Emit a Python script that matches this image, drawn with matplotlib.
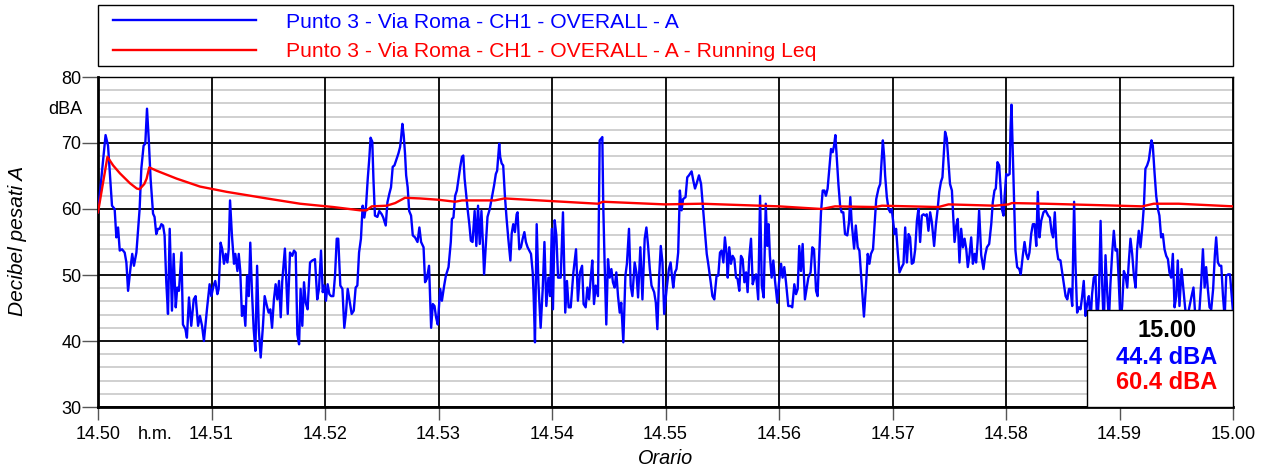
import matplotlib
matplotlib.use("Agg")
import matplotlib.pyplot as plt
from matplotlib.patches import Rectangle

plt.rcParams["font.family"] = ["Liberation Sans", "DejaVu Sans"]

# ── Dati (tempo in secondi da 14.50, livello in dBA) ─────────────────────────
blue_pts = [
    (0, 59.5), (4.0, 71.2), (5.3, 69.6), (6.2, 65.6), (7.4, 60.5), (8.8, 60.0),
    (9.7, 55.7), (10.6, 57.2), (11.5, 53.7), (12.7, 53.9), (14.1, 53.4), (15.0, 51.9),
    (15.9, 47.6), (17.3, 51.4), (18.1, 53.2), (19.0, 51.4), (20.3, 53.4), (22.0, 60.0),
    (22.9, 66.1), (24.1, 69.6), (25.0, 69.9), (25.9, 75.2), (26.8, 70.7), (27.8, 64.6),
    (29.1, 59.3), (29.9, 58.8), (30.8, 56.2), (31.7, 57.0), (32.6, 57.0), (33.5, 57.7),
    (34.4, 57.5), (35.2, 56.0), (36.1, 48.9), (37.0, 44.1), (37.9, 57.0), (39.1, 44.6),
    (40.0, 53.2), (41.1, 45.1), (41.9, 48.1), (42.8, 47.6), (44.1, 53.4), (44.9, 42.5),
    (46.2, 41.8), (47.0, 40.5), (48.1, 46.6), (49.3, 42.3), (50.6, 46.3), (51.6, 46.8),
    (52.9, 42.3), (53.9, 43.8), (55.0, 42.3), (56.0, 40.0), (57.6, 44.8), (59.0, 48.6),
    (59.9, 46.8), (61.1, 48.4), (62.0, 49.1), (63.1, 47.1), (63.8, 47.9), (64.8, 54.9),
    (65.7, 53.9), (66.6, 51.7), (67.5, 53.2), (68.4, 51.9), (69.1, 53.9), (69.8, 61.3),
    (70.8, 56.0), (71.9, 51.7), (72.6, 53.2), (73.7, 50.6), (74.4, 53.2), (75.2, 50.6),
    (76.1, 43.8), (77.0, 45.3), (77.9, 42.3), (78.8, 49.9), (79.7, 46.8), (80.5, 54.9),
    (81.4, 47.4), (82.3, 41.8), (83.2, 38.5), (84.1, 51.4), (85.0, 41.8), (86.0, 37.5),
    (87.2, 42.3), (88.1, 46.8), (89.3, 45.3), (90.2, 44.3), (91.1, 44.8), (92.0, 42.0),
    (93.0, 46.3), (93.9, 48.6), (94.8, 46.3), (95.7, 49.1), (96.6, 43.6), (97.4, 49.1),
    (98.8, 54.0), (100.3, 44.1), (101.5, 53.4), (102.7, 52.9), (103.6, 53.7), (104.5, 53.4),
    (105.4, 41.0), (106.3, 39.5), (107.1, 47.9), (108.0, 42.3), (108.9, 48.9), (109.8, 45.8),
    (110.8, 44.8), (112.1, 51.9), (113.3, 52.2), (114.7, 52.4), (115.9, 46.3), (116.8, 47.9),
    (117.9, 53.7), (118.8, 47.4), (119.6, 48.4), (120.5, 46.1), (121.4, 48.6), (122.3, 47.1),
    (123.2, 46.8), (124.4, 46.8), (125.3, 49.9), (126.2, 55.5), (127.0, 55.5), (128.1, 48.4),
    (129.2, 47.9), (130.2, 42.0), (131.1, 44.3), (132.0, 47.9), (132.9, 46.3), (134.1, 44.1),
    (135.2, 44.6), (136.2, 48.1), (137.1, 48.4), (138.0, 53.4), (139.0, 55.5), (139.9, 60.5),
    (140.8, 58.7), (141.7, 60.5), (142.6, 64.6), (143.4, 67.6), (144.1, 70.8), (145.0, 70.2),
    (145.6, 64.6), (146.4, 59.0), (147.7, 58.8), (148.7, 59.7), (150.0, 59.2), (150.8, 58.7),
    (152.1, 57.5), (153.0, 61.0), (154.0, 62.3), (154.9, 63.3), (155.8, 66.4), (156.7, 66.6),
    (157.9, 67.6), (158.8, 68.4), (159.7, 69.4), (160.2, 70.7), (160.9, 72.9), (161.6, 71.2),
    (162.3, 68.4), (162.9, 65.1), (163.7, 63.3), (164.5, 59.7), (165.5, 59.0), (166.4, 56.0),
    (167.6, 55.7), (168.9, 55.0), (169.9, 57.2), (170.8, 55.0), (172.1, 54.2), (172.9, 48.9),
    (173.8, 49.4), (175.0, 51.4), (176.1, 42.0), (177.0, 45.6), (177.9, 45.3), (178.7, 43.6),
    (179.6, 42.5), (180.9, 47.9), (181.8, 46.1), (183.0, 48.4), (183.9, 49.9), (185.3, 51.2),
    (186.5, 55.0), (187.1, 58.5), (187.9, 58.7), (188.8, 62.0), (189.7, 62.8), (190.6, 64.6),
    (191.5, 66.4), (192.4, 67.9), (193.1, 68.1), (193.8, 64.6), (194.7, 62.0), (195.5, 59.7),
    (196.3, 57.7), (197.1, 55.2), (198.0, 55.0), (199.1, 59.7), (200.0, 54.4), (200.9, 60.5),
    (201.8, 54.7), (202.7, 59.7), (203.6, 53.9), (204.1, 50.1), (205.1, 55.0), (205.9, 58.8),
    (207.1, 60.0), (208.4, 62.0), (209.4, 63.6), (210.3, 65.3), (211.0, 65.8), (211.6, 68.1),
    (212.1, 69.9), (212.6, 67.9), (213.4, 66.9), (214.2, 66.6), (215.1, 62.0), (216.0, 58.5),
    (216.9, 55.5), (218.0, 52.2), (218.7, 56.3), (219.5, 57.7), (220.4, 56.5), (221.3, 59.2),
    (221.8, 59.5), (222.7, 53.9), (223.6, 54.2), (224.5, 55.5), (225.4, 56.5), (226.2, 55.0),
    (227.1, 54.2), (228.0, 53.7), (228.9, 53.2), (229.8, 50.4), (230.3, 46.8), (231.0, 39.8),
    (231.9, 57.7), (232.8, 48.9), (234.0, 42.0), (235.1, 47.9), (236.0, 55.0), (237.0, 45.3),
    (238.1, 49.6), (239.0, 46.8), (239.9, 57.0), (240.5, 44.8), (241.4, 58.3), (242.3, 56.0),
    (243.2, 49.6), (244.6, 49.6), (245.8, 59.5), (247.0, 44.3), (247.9, 49.1), (248.8, 45.1),
    (249.9, 45.1), (251.3, 50.4), (252.7, 53.9), (253.7, 46.1), (254.8, 50.4), (255.9, 51.4),
    (256.7, 45.6), (257.8, 45.1), (258.7, 48.1), (259.6, 46.3), (260.5, 49.6), (261.3, 52.2),
    (262.2, 45.6), (263.1, 48.4), (264.3, 46.8), (265.2, 70.4), (266.1, 70.7), (266.6, 70.9),
    (267.1, 60.5), (267.8, 51.9), (268.7, 42.5), (269.6, 52.4), (270.5, 49.6), (271.4, 50.9),
    (272.2, 48.9), (273.1, 48.1), (274.0, 50.4), (274.9, 46.8), (275.8, 44.3), (276.6, 45.8),
    (277.7, 39.8), (278.8, 49.9), (279.6, 51.7), (280.7, 57.0), (281.6, 48.4), (282.5, 46.8),
    (283.7, 51.9), (284.6, 50.4), (285.5, 46.6), (286.7, 54.2), (287.8, 46.3), (289.0, 55.5),
    (289.9, 57.2), (290.8, 54.4), (291.7, 50.9), (292.6, 48.4), (294.0, 47.4), (294.9, 45.8),
    (295.7, 41.8), (296.6, 49.6), (297.5, 54.4), (298.4, 51.9), (299.3, 44.1), (300.6, 47.9),
    (301.8, 50.9), (302.7, 51.9), (303.5, 49.6), (304.1, 48.1), (305.0, 50.4), (305.8, 50.9),
    (306.7, 53.4), (307.6, 62.8), (308.5, 59.8), (309.3, 61.5), (310.6, 61.8), (311.5, 64.8),
    (312.4, 65.1), (313.8, 65.7), (314.7, 64.3), (315.6, 63.1), (316.4, 63.8), (317.7, 65.1),
    (318.8, 63.8), (319.6, 61.0), (320.5, 57.7), (321.8, 53.2), (322.6, 51.7), (323.9, 48.9),
    (324.8, 46.8), (325.8, 46.3), (327.0, 49.9), (327.9, 49.9), (328.8, 53.4), (329.7, 53.7),
    (330.6, 51.9), (331.4, 55.7), (332.3, 53.2), (332.9, 49.6), (333.7, 54.2), (334.6, 51.7),
    (335.5, 52.9), (336.4, 52.4), (337.3, 49.6), (338.1, 49.4), (339.0, 47.6), (339.9, 52.9),
    (340.8, 52.4), (341.7, 48.9), (342.6, 50.4), (343.4, 47.4), (344.3, 52.7), (345.2, 55.5),
    (346.1, 48.6), (347.0, 49.6), (347.9, 50.1), (349.0, 46.3), (350.0, 62.0), (350.9, 48.4),
    (351.9, 46.6), (353.0, 60.8), (353.8, 54.4), (354.5, 57.7), (355.2, 52.9), (356.1, 49.6),
    (357.0, 52.2), (357.9, 49.1), (359.1, 45.8), (360.0, 48.9), (361.1, 51.7), (361.9, 49.6),
    (362.8, 51.2), (363.7, 48.9), (364.9, 45.3), (366.2, 45.3), (367.0, 45.1), (368.1, 48.6),
    (369.0, 47.1), (369.9, 47.9), (370.7, 54.4), (371.6, 50.6), (372.5, 54.7), (373.7, 46.3),
    (374.6, 47.9), (375.5, 49.6), (376.7, 50.4), (377.6, 54.2), (378.5, 53.9), (379.6, 47.6),
    (380.4, 46.8), (381.3, 53.4), (382.2, 59.5), (383.1, 62.8), (384.0, 62.8), (384.8, 62.0),
    (385.7, 63.1), (386.6, 66.1), (387.5, 69.1), (388.4, 68.6), (389.1, 69.6), (389.8, 71.2),
    (390.5, 67.9), (391.4, 63.8), (392.3, 60.5), (393.1, 59.5), (394.0, 59.5), (394.9, 56.2),
    (396.1, 56.0), (397.0, 58.0), (397.7, 61.8), (398.4, 58.0), (399.7, 54.0), (400.6, 57.5),
    (401.6, 54.2), (402.5, 53.7), (403.4, 50.0), (404.9, 43.7), (406.0, 48.4), (406.9, 53.2),
    (407.8, 51.7), (408.6, 53.2), (409.7, 53.9), (410.5, 57.5), (411.4, 61.5), (412.6, 63.1),
    (413.5, 63.8), (414.4, 67.9), (414.9, 70.4), (415.6, 67.9), (416.1, 65.1), (417.0, 61.8),
    (417.9, 60.0), (418.8, 59.5), (419.6, 60.0), (420.2, 58.5), (421.1, 56.2), (421.9, 57.0),
    (422.8, 53.4), (423.7, 50.4), (424.9, 51.2), (425.8, 51.7), (426.7, 57.2), (427.6, 51.9),
    (428.5, 56.2), (429.3, 55.7), (430.2, 51.7), (431.1, 51.9), (432.0, 53.9), (432.9, 58.2),
    (433.7, 60.0), (434.6, 55.0), (435.5, 59.0), (436.4, 59.2), (437.3, 59.0), (438.1, 59.2),
    (439.0, 56.7), (439.9, 59.5), (440.8, 58.0), (442.0, 54.4), (442.9, 57.5), (443.8, 59.8),
    (444.7, 62.6), (445.6, 64.1), (446.4, 64.8), (447.1, 68.4), (447.8, 71.7), (448.7, 70.7),
    (449.6, 67.1), (450.4, 63.8), (451.4, 62.8), (451.9, 60.0), (452.8, 55.0), (453.7, 57.5),
    (454.5, 58.5), (455.4, 51.9), (456.3, 57.0), (457.2, 54.2), (458.1, 55.5), (459.0, 53.9),
    (459.8, 51.2), (460.7, 53.0), (461.6, 55.7), (462.5, 51.7), (463.4, 53.2), (464.2, 51.9),
    (465.0, 55.0), (465.8, 59.8), (466.9, 53.0), (468.1, 50.9), (469.0, 53.0), (469.9, 54.2),
    (471.1, 54.7), (472.2, 57.7), (473.0, 61.0), (473.9, 62.8), (474.6, 63.1), (475.5, 67.1),
    (476.4, 66.6), (477.3, 62.6), (477.8, 60.0), (478.7, 59.0), (479.3, 62.0), (480.1, 65.3),
    (481.0, 65.1), (481.9, 65.3), (482.4, 72.2), (482.9, 75.8), (483.7, 67.1), (484.3, 61.0),
    (485.0, 53.7), (485.9, 51.2), (487.0, 50.9), (487.8, 50.1), (488.9, 53.0), (489.8, 55.0),
    (490.7, 53.2), (491.6, 52.4), (492.4, 53.4), (493.3, 56.2), (494.2, 57.7), (495.1, 57.7),
    (496.0, 54.4), (496.8, 62.6), (497.7, 55.7), (498.6, 58.2), (499.8, 59.5), (500.9, 59.8),
    (502.3, 59.0), (503.2, 58.7), (504.1, 56.5), (504.9, 55.7), (505.8, 59.5), (506.7, 54.2),
    (507.6, 52.4), (508.8, 52.2), (509.7, 50.4), (510.6, 48.6), (511.5, 46.8), (512.4, 46.3),
    (513.3, 47.9), (514.1, 47.9), (515.0, 45.3), (516.0, 61.1), (516.7, 51.9), (517.6, 44.3),
    (518.5, 45.1), (519.4, 44.8), (520.2, 46.6), (521.1, 49.1), (522.0, 43.8), (522.9, 45.6),
    (523.8, 46.8), (524.7, 43.0), (525.5, 47.1), (526.4, 49.6), (527.3, 49.9), (528.2, 42.5),
    (529.1, 46.8), (530.0, 58.2), (530.8, 48.9), (531.7, 42.0), (532.6, 53.0), (533.5, 47.4),
    (534.4, 43.0), (535.2, 48.6), (536.1, 53.2), (537.0, 56.7), (537.9, 53.7), (538.8, 53.9),
    (539.6, 49.1), (540.5, 42.8), (541.4, 45.3), (542.3, 50.6), (543.2, 49.9), (544.1, 48.1),
    (544.9, 51.9), (545.8, 55.5), (546.7, 53.2), (547.6, 49.9), (548.5, 48.1), (549.3, 53.9),
    (550.2, 56.7), (551.1, 54.2), (552.0, 57.0), (552.9, 60.5), (553.7, 66.1), (554.6, 66.6),
    (555.5, 67.4), (556.4, 69.4), (556.9, 70.4), (557.6, 69.6), (558.5, 65.6), (559.4, 62.0),
    (560.3, 60.0), (561.1, 59.0), (562.0, 55.7), (562.9, 56.2), (563.8, 53.9), (564.7, 52.9),
    (565.6, 52.4), (566.4, 50.4), (567.3, 49.6), (568.2, 53.2), (569.1, 45.1), (570.0, 46.8),
    (570.8, 52.2), (571.7, 45.3), (572.8, 50.9), (573.7, 48.1), (574.6, 45.3), (575.6, 42.7),
    (576.7, 44.8), (578.1, 46.8), (579.1, 48.1), (580.0, 44.1), (581.1, 42.3), (582.3, 44.8),
    (583.2, 48.9), (584.1, 53.9), (585.0, 48.1), (585.8, 51.2), (586.7, 47.9), (587.6, 45.1),
    (588.5, 44.8), (589.5, 47.9), (590.4, 53.0), (591.1, 55.7), (592.0, 51.9), (592.9, 51.4),
    (593.8, 51.4), (594.7, 46.8), (595.6, 43.5), (596.4, 49.9), (597.5, 50.1), (598.4, 50.1),
    (599.3, 46.8), (600.0, 44.4),
]

red_pts = [
    (0, 59.5), (5.0, 67.9), (8.0, 66.6), (11.6, 65.4), (16.9, 63.9), (20.5, 63.1),
    (22.0, 63.0), (24.5, 63.8), (25.7, 64.6), (27.1, 66.3), (31.0, 65.8), (41.6, 64.6),
    (53.9, 63.4), (68.0, 62.6), (89.2, 61.6), (106.8, 60.8), (124.3, 60.3), (138.5, 59.8),
    (142.0, 59.8), (144.7, 60.4), (152.6, 60.5), (157.1, 60.9), (159.7, 61.3), (162.3, 61.7),
    (170.2, 61.6), (180.0, 61.4), (188.8, 61.1), (192.4, 61.3), (199.4, 61.3), (209.7, 61.3),
    (214.9, 61.6), (239.6, 61.2), (264.3, 60.8), (266.9, 61.1), (299.6, 60.7), (319.1, 60.8),
    (360.0, 60.4), (382.6, 60.0), (389.6, 60.4), (410.8, 60.3), (414.4, 60.5), (444.3, 60.3),
    (449.6, 60.7), (474.3, 60.5), (481.3, 60.7), (483.1, 60.9), (500.7, 60.8), (539.6, 60.5),
    (552.0, 60.4), (558.1, 60.8), (571.3, 60.8), (600.0, 60.4),
]

x_ticks = [0, 60, 120, 180, 240, 300, 360, 420, 480, 540, 600]
x_labels = ["14.50", "14.51", "14.52", "14.53", "14.54", "14.55",
            "14.56", "14.57", "14.58", "14.59", "15.00"]
y_ticks = [30, 40, 50, 60, 70, 80]

label_blue = "Punto 3 - Via Roma - CH1 - OVERALL - A"
label_red = "Punto 3 - Via Roma - CH1 - OVERALL - A - Running Leq"
end_time = "15.00"
end_blue = "44.4 dBA"
end_red = "60.4 dBA"

C_BLUE = "#0000FF"
C_RED = "#FF0000"

# ── Figura ───────────────────────────────────────────────────────────────────
fig = plt.figure(figsize=(12.61, 4.70), dpi=100, facecolor="white")
ax = fig.add_axes([98 / 1261, 1 - 407 / 470, 1135 / 1261, 330 / 470])

bt, bv = zip(*blue_pts)
rt, rv = zip(*red_pts)
ax.plot(bt, bv, color=C_BLUE, lw=1.7, label=label_blue, zorder=3)
ax.plot(rt, rv, color=C_RED, lw=1.7, label=label_red, zorder=4)

ax.set_xlim(0, 600)
ax.set_ylim(30, 80)

ax.set_xticks(x_ticks, x_labels)
ax.set_xticks([30], ["h.m."], minor=True)
ax.set_yticks(y_ticks)
ax.set_yticks(range(30, 81, 2), minor=True)

ax.set_axisbelow(True)
# le verticali nere sopra le orizzontali grigie
ax.yaxis.set_zorder(0.4)
ax.xaxis.set_zorder(0.6)
ax.yaxis.grid(True, which="minor", color="#c8c8c8", lw=1.2)
ax.yaxis.grid(True, which="major", color="black", lw=1.3)
ax.xaxis.grid(True, which="major", color="black", lw=1.3)

ax.tick_params(axis="x", which="major", length=9.5, width=1, pad=4,
               labelsize=13, color="#555555")
ax.tick_params(axis="x", which="minor", length=0, pad=13.5, labelsize=13)
ax.tick_params(axis="y", which="major", length=11.5, width=1, pad=0.5,
               labelsize=13, color="#555555")
ax.tick_params(axis="y", which="minor", length=0, labelleft=False)

ax.text(-16 / 1135, 75, "dBA", transform=ax.get_yaxis_transform(),
        ha="right", va="center", fontsize=13)

for side in ["left", "bottom"]:
    ax.spines[side].set_linewidth(2)
for side in ["top", "right"]:
    ax.spines[side].set_linewidth(1)

ax.set_ylabel("Decibel pesati A", fontsize=15, style="italic")
ax.yaxis.set_label_coords(-0.0626, 0.503)
ax.set_xlabel("Orario", fontsize=14.3, style="italic")
ax.xaxis.set_label_coords(0.4996, -0.128)

# riquadro valori finali
ax.add_patch(Rectangle((0.8714, 0), 0.1286, 0.294, transform=ax.transAxes,
                       facecolor="white", edgecolor="black", lw=1, zorder=5))
ax.text(0.9419, 0.233, end_time, transform=ax.transAxes, ha="center",
        va="center", fontsize=17, fontweight="bold", color="black", zorder=6)
ax.text(0.9419, 0.1515, end_blue, transform=ax.transAxes, ha="center",
        va="center", fontsize=17, fontweight="bold", color=C_BLUE, zorder=6)
ax.text(0.9419, 0.073, end_red, transform=ax.transAxes, ha="center",
        va="center", fontsize=17, fontweight="bold", color=C_RED, zorder=6)

# legenda in alto
fig.patches.append(Rectangle((98 / 1261, 1 - 66 / 470), 1135 / 1261, 61 / 470,
                             transform=fig.transFigure, facecolor="none",
                             edgecolor="black", lw=1))
ax.legend(loc="upper left", bbox_to_anchor=(113 / 1261, 1 - 12.5 / 470),
          bbox_transform=fig.transFigure, frameon=False, borderpad=0,
          borderaxespad=0, handlelength=6.76, handletextpad=1.43,
          labelspacing=0.5, fontsize=15.2, labelcolor="linecolor")

fig.savefig("out.png", dpi=100)
